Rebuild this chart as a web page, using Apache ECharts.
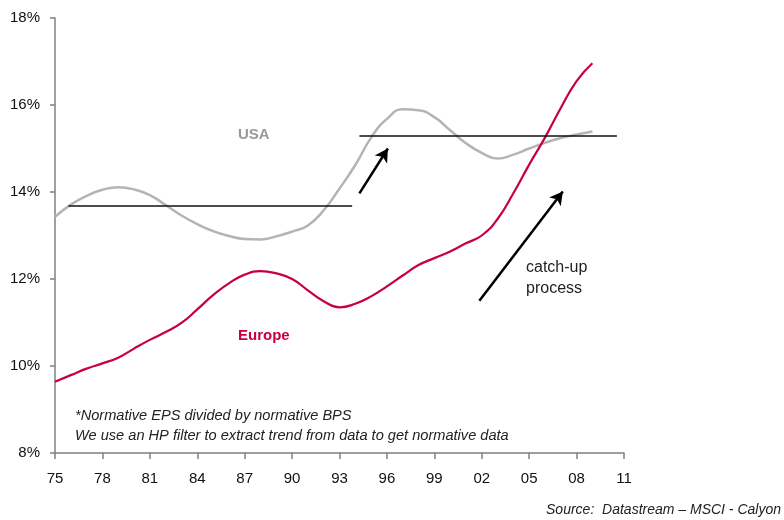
<!DOCTYPE html>
<html>
<head>
<meta charset="utf-8">
<script src="https://cdn.jsdelivr.net/npm/echarts@6/dist/echarts.min.js"></script>
<style>
  html, body { margin: 0; padding: 0; background: #fff; }
  #chart { width: 784px; height: 520px; }
</style>
</head>
<body>
<div id="chart"></div>
<script>
// ---- data ----
const years = [1975,1976,1977,1978,1979,1980,1981,1982,1983,1984,1985,1986,1987,1988,1989,1990,1991,1992,1993,1994,1995,1996,1997,1998,1999,2000,2001,2002,2003,2004,2005,2006,2007,2008,2009];
const usa = [13.43,13.71,13.91,14.05,14.11,14.06,13.93,13.70,13.46,13.26,13.10,12.99,12.92,12.91,12.98,13.09,13.23,13.58,14.08,14.62,15.25,15.68,15.90,15.88,15.72,15.42,15.12,14.90,14.77,14.86,15.00,15.13,15.24,15.32,15.39];
const europe = [9.64,9.79,9.94,10.06,10.19,10.40,10.60,10.78,10.99,11.30,11.63,11.90,12.10,12.18,12.13,12.00,11.74,11.49,11.35,11.43,11.60,11.83,12.08,12.32,12.48,12.63,12.82,13.00,13.38,13.97,14.63,15.25,15.93,16.55,16.96];
const yTicks = [8, 10, 12, 14, 16, 18];
const xStartYear = 1975, xEndYear = 2011;
// horizontal average lines: [yearFrom, yearTo, level]
const avgLineUSA1 = [1975.85, 1993.8, 13.68];
const avgLineUSA2 = [1994.26, 2010.55, 15.29];
// arrows: [yearFrom, valFrom, yearTo, valTo]
const arrowSmall = [1994.26, 13.97, 1996.06, 15.00];
const arrowBig = [2001.85, 11.50, 2007.13, 14.01];

const toT = y => y - xStartYear;
const usaData = years.map((y, i) => [toT(y), usa[i]]);
const euData = years.map((y, i) => [toT(y), europe[i]]);

const chart = echarts.init(document.getElementById('chart'), null, { renderer: 'canvas' });
const FONT = '"Liberation Sans", Arial, sans-serif';

chart.setOption({
  animation: false,
  backgroundColor: '#ffffff',
  grid: { left: 55, right: 160, top: 18, bottom: 67, containLabel: false },
  xAxis: {
    type: 'value',
    min: 0, max: xEndYear - xStartYear, interval: 3,
    axisLine: { show: true, lineStyle: { color: '#808080', width: 1.5 } },
    axisTick: { show: true, length: 6, lineStyle: { color: '#808080', width: 1.5 } },
    axisLabel: {
      margin: 18, color: '#111', fontFamily: FONT, fontSize: 15,
      formatter: v => String((xStartYear + v) % 100).padStart(2, '0')
    },
    splitLine: { show: false }
  },
  yAxis: {
    type: 'value',
    min: yTicks[0], max: yTicks[yTicks.length - 1], interval: 2,
    axisLine: { show: true, lineStyle: { color: '#808080', width: 1.5 } },
    axisTick: { show: true, length: 5, lineStyle: { color: '#808080', width: 1.5 } },
    axisLabel: { margin: 15, color: '#111', fontFamily: FONT, fontSize: 15, formatter: '{value}%' },
    splitLine: { show: false }
  },
  series: [
    {
      name: 'USA', type: 'line', data: usaData, smooth: true, showSymbol: false,
      lineStyle: { color: '#b4b4b4', width: 2.5 },
      markLine: {
        silent: true, symbol: ['none', 'none'], label: { show: false },
        lineStyle: { color: '#111', width: 1.5, type: 'solid' },
        data: [
          [{ coord: [toT(avgLineUSA1[0]), avgLineUSA1[2]] }, { coord: [toT(avgLineUSA1[1]), avgLineUSA1[2]] }],
          [{ coord: [toT(avgLineUSA2[0]), avgLineUSA2[2]] }, { coord: [toT(avgLineUSA2[1]), avgLineUSA2[2]] }]
        ]
      }
    },
    {
      name: 'Europe', type: 'line', data: euData, smooth: true, showSymbol: false,
      lineStyle: { color: '#c8003c', width: 2.2 },
      markLine: {
        silent: true, symbol: ['none', 'arrow'], symbolSize: [11, 13], label: { show: false },
        lineStyle: { color: '#000', width: 2.5, type: 'solid' },
        itemStyle: { color: '#000' },
        data: [
          [{ coord: [toT(arrowSmall[0]), arrowSmall[1]] }, { coord: [toT(arrowSmall[2]), arrowSmall[3]] }],
          [{ coord: [toT(arrowBig[0]), arrowBig[1]] }, { coord: [toT(arrowBig[2]), arrowBig[3]] }]
        ]
      }
    }
  ],
  graphic: [
    { type: 'text', left: 238, top: 127, style: { text: 'USA', fill: '#999999', font: 'bold 15px ' + FONT } },
    { type: 'text', left: 238, top: 328, style: { text: 'Europe', fill: '#c8003c', font: 'bold 15px ' + FONT } },
    { type: 'text', left: 526, top: 257, style: { text: 'catch-up\nprocess', fill: '#222', font: '16px ' + FONT, lineHeight: 21 } },
    { type: 'text', left: 75, top: 408, style: { text: '*Normative EPS divided by normative BPS', fill: '#222', font: 'italic 14.6px ' + FONT } },
    { type: 'text', left: 75, top: 428, style: { text: 'We use an HP filter to extract trend from data to get normative data', fill: '#222', font: 'italic 14.6px ' + FONT } },
    { type: 'text', right: 3, top: 503, style: { text: 'Source:  Datastream \u2013 MSCI - Calyon', fill: '#222', font: 'italic 14px ' + FONT } }
  ]
});
</script>
</body>
</html>
